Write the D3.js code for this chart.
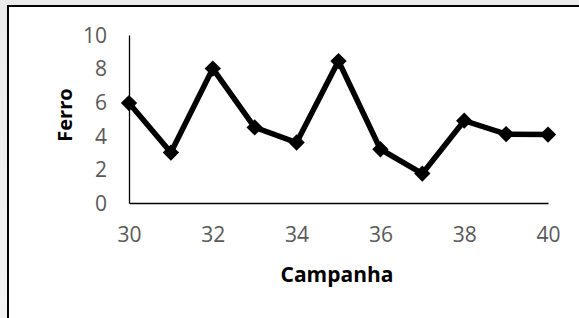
<!DOCTYPE html>
<html><head><meta charset="utf-8">
<script src="https://cdn.jsdelivr.net/npm/d3@7"></script>
<style>html,body{margin:0;padding:0;background:#fff;overflow:hidden}</style>
</head><body>
<svg id="c" width="579" height="318"></svg>
<script>
const campanha = [30,31,32,33,34,35,36,37,38,39,40];
const ferro = [5.95,3.0,8.0,4.5,3.6,8.45,3.2,1.75,4.9,4.1,4.07];
const xTicks = [30,32,34,36,38,40];
const yTicks = [0,2,4,6,8,10];

const svg = d3.select("#c");
const W = 579, H = 318;
const g0 = svg.append("defs").append("linearGradient").attr("id","bg").attr("x1",0).attr("x2",0).attr("y1",0).attr("y2",1);
g0.append("stop").attr("offset","0%").attr("stop-color","#ebebeb");
g0.append("stop").attr("offset","100%").attr("stop-color","#f3f3f3");
svg.append("rect").attr("width",W).attr("height",H).attr("fill","url(#bg)");
svg.append("rect").attr("x",8).attr("y",6).attr("width",W+10).attr("height",H+10)
  .attr("fill","#fff").attr("stroke","#000").attr("stroke-width",2);

const x = d3.scaleLinear().domain([30,40]).range([129,548]);
const y = d3.scaleLinear().domain([0,10]).range([203,35]);
const font = "'Open Sans', sans-serif";

const xa = svg.append("g").attr("transform","translate(0,203)")
  .call(d3.axisBottom(x).tickValues(xTicks).tickSize(0).tickPadding(32).tickFormat(d3.format("d")));
const ya = svg.append("g").attr("transform","translate(129,0)")
  .call(d3.axisLeft(y).tickValues(yTicks).tickSize(0).tickPadding(22).tickFormat(d3.format("d")));
[xa,ya].forEach(a=>{
  a.select(".domain").attr("stroke","#000").attr("stroke-width",1.3);
  a.selectAll("text").attr("fill","#595959").style("font-family",font).style("font-size","21px");
});
ya.selectAll("text").attr("dy","0.35em");
xa.selectAll("text").attr("dy","0.35em");

const line = d3.line().x((d,i)=>x(campanha[i])).y(d=>y(d));
svg.append("path").datum(ferro).attr("d",line).attr("fill","none")
  .attr("stroke","#000").attr("stroke-width",5.5).attr("stroke-linejoin","miter");
svg.append("g").selectAll("path").data(ferro).join("path")
  .attr("d",d3.symbol().type(d3.symbolDiamond2).size(170))
  .attr("transform",(d,i)=>`translate(${x(campanha[i])},${y(d)})`)
  .attr("fill","#000");

svg.append("text").attr("x",337).attr("y",282).attr("text-anchor","middle")
  .style("font-family",font).style("font-size","21px").style("font-weight","bold").text("Campanha");
svg.append("text").attr("transform","translate(72,115) rotate(-90)").attr("text-anchor","middle")
  .style("font-family",font).style("font-size","20px").style("font-weight","bold").text("Ferro");
</script>
</body></html>
